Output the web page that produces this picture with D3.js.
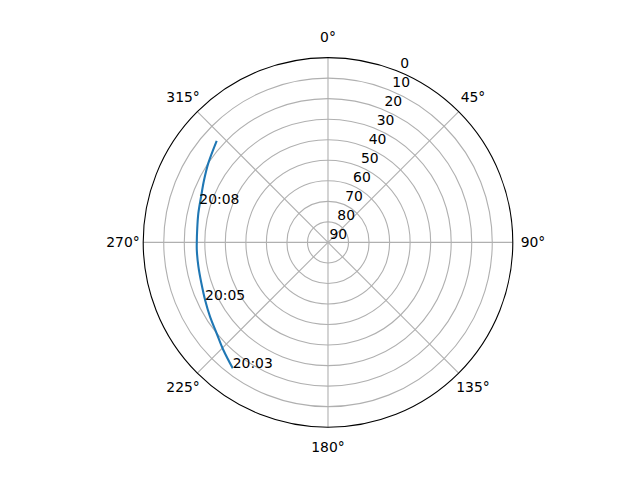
<!DOCTYPE html>
<html>
<head>
<meta charset="utf-8">
<script src="https://cdn.jsdelivr.net/npm/d3@7"></script>
<style>
  html, body { margin: 0; padding: 0; background: #fff; }
  svg { display: block; font-family: "DejaVu Sans", sans-serif; }
</style>
</head>
<body>
<svg id="chart" width="640" height="480"></svg>
<script>
// Satellite pass: azimuth (deg, clockwise from north) and elevation (deg)
const azimuth   = [217.1, 224.2, 230.8, 237.8, 244.9, 252.1, 259.5, 266.7, 270.0, 275.4, 282.5, 289.8, 296.5, 303.5, 312.4];
const elevation = [13.1, 16.9, 20.0, 22.1, 23.9, 25.2, 25.8, 26.0, 26.1, 26.0, 25.3, 24.3, 22.5, 20.1, 16.6];

// Time annotations
const labelTimes = ["20:03", "20:05", "20:08"];
const labelAz    = [217.1, 244.9, 286.6];
const labelEl    = [13.1, 23.9, 24.6];

// Tick values
const radialTicks = [0, 10, 20, 30, 40, 50, 60, 70, 80, 90];
const thetaTicks  = [0, 45, 90, 135, 180, 225, 270, 315];

const cx = 328, cy = 242.4, R = 184.8;
const svg = d3.select("#chart");
const g = svg.append("g").attr("transform", `translate(${cx},${cy})`);

const r = d3.scaleLinear().domain([0, 90]).range([R, 0]);
const rad = d => d * Math.PI / 180;
const px = (az, el) => [r(el) * Math.sin(rad(az)), -r(el) * Math.cos(rad(az))];

// grid circles
g.selectAll("circle.grid")
  .data(radialTicks.filter(t => t > 0 && t < 90))
  .join("circle")
  .attr("class", "grid")
  .attr("r", d => r(d))
  .attr("fill", "none")
  .attr("stroke", "#b0b0b0")
  .attr("stroke-width", 1.1);

// spokes
g.selectAll("line.spoke")
  .data(thetaTicks)
  .join("line")
  .attr("x1", 0).attr("y1", 0)
  .attr("x2", d => R * Math.sin(rad(d)))
  .attr("y2", d => -R * Math.cos(rad(d)))
  .attr("stroke", "#b0b0b0")
  .attr("stroke-width", 1.1);

// outer spine
g.append("circle")
  .attr("r", R)
  .attr("fill", "none")
  .attr("stroke", "#000")
  .attr("stroke-width", 1.1);

// theta labels
g.selectAll("text.theta")
  .data(thetaTicks)
  .join("text")
  .attr("x", d => 205 * Math.sin(rad(d)))
  .attr("y", d => -205 * Math.cos(rad(d)))
  .attr("text-anchor", "middle")
  .attr("dominant-baseline", "central")
  .attr("font-size", "13.9px")
  .attr("fill", "#000")
  .text(d => d + "°");

// radial labels at 22.5°
g.selectAll("text.rlab")
  .data(radialTicks)
  .join("text")
  .attr("x", d => r(d) * Math.sin(rad(22.5)) + 1.5)
  .attr("y", d => -r(d) * Math.cos(rad(22.5)) - 3.5)
  .attr("text-anchor", "start")
  .attr("font-size", "13.9px")
  .attr("fill", "#000")
  .text(d => d);

// pass curve
const pts = azimuth.map((a, i) => ({ az: a, el: elevation[i] }));
const line = d3.lineRadial()
  .angle(d => rad(d.az))
  .radius(d => r(d.el))
  .curve(d3.curveCatmullRom);
g.append("path")
  .datum(pts)
  .attr("d", line)
  .attr("fill", "none")
  .attr("stroke", "#1f77b4")
  .attr("stroke-width", 2.08);

// time annotations
g.selectAll("text.time")
  .data(labelTimes)
  .join("text")
  .attr("x", (d, i) => px(labelAz[i], labelEl[i])[0])
  .attr("y", (d, i) => px(labelAz[i], labelEl[i])[1])
  .attr("text-anchor", "start")
  .attr("font-size", "13.9px")
  .attr("fill", "#000")
  .text(d => d);
</script>
</body>
</html>
